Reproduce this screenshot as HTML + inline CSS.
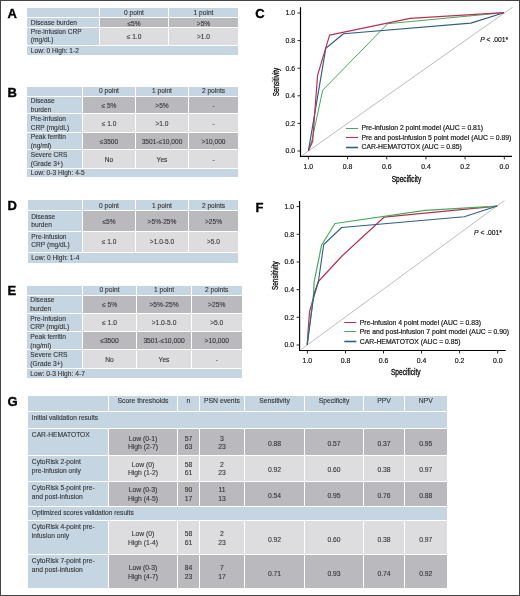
<!DOCTYPE html>
<html><head><meta charset="utf-8"><style>
html,body{margin:0;padding:0;}
body{width:520px;height:596px;position:relative;overflow:hidden;background:#fff;font-family:"Liberation Sans",sans-serif;}
.frame{position:absolute;left:0;top:0;width:518px;height:594px;border:1px solid #444;}
.c{position:absolute;display:flex;box-sizing:border-box;color:#333333;-webkit-text-stroke:0.1px #333333;line-height:8.5px;white-space:nowrap;}
.lbl{position:absolute;font-weight:bold;font-size:12px;line-height:12px;color:#000;}
svg{position:absolute;left:0;top:0;}
.plbl{font-family:"Liberation Sans",sans-serif;font-weight:bold;font-size:13px;fill:#000;stroke:#000;stroke-width:0.35px;}
.tk{font-family:"Liberation Sans",sans-serif;font-size:6.9px;fill:#222;stroke:#222;stroke-width:0.2px;}
.tk2{font-family:"Liberation Sans",sans-serif;font-size:6.75px;fill:#222;stroke:#222;stroke-width:0.2px;}
.ax{font-family:"Liberation Sans",sans-serif;font-size:8.9px;fill:#111;stroke:#111;stroke-width:0.35px;}
</style></head><body>
<div id="wrap" style="position:absolute;left:0;top:0;width:520px;height:596px;will-change:transform;background:#fff">
<div class="frame"></div>
<div class="c" style="left:27px;top:8px;width:72px;height:9px;background:#c5d5e2;justify-content:center;align-items:center;font-size:6.6px;text-align:center;line-height:8.2px;"><span style="position:relative;top:1.0px"></span></div>
<div class="c" style="left:100px;top:8px;width:68px;height:9px;background:#c5d5e2;justify-content:center;align-items:center;font-size:6.6px;text-align:center;line-height:8.2px;"><span style="position:relative;top:1.0px">0 point</span></div>
<div class="c" style="left:169px;top:8px;width:69px;height:9px;background:#c5d5e2;justify-content:center;align-items:center;font-size:6.6px;text-align:center;line-height:8.2px;"><span style="position:relative;top:1.0px">1 point</span></div>
<div class="c" style="left:27px;top:18px;width:72px;height:9px;background:#c5d5e2;justify-content:flex-start;align-items:center;font-size:6.6px;padding-left:3.8px;text-align:left;line-height:8.2px;"><span style="position:relative;top:1.0px">Disease burden</span></div>
<div class="c" style="left:100px;top:18px;width:68px;height:9px;background:#bab9be;justify-content:center;align-items:center;font-size:6.6px;text-align:center;line-height:8.2px;"><span style="position:relative;top:1.6px">≤5%</span></div>
<div class="c" style="left:169px;top:18px;width:69px;height:9px;background:#bab9be;justify-content:center;align-items:center;font-size:6.6px;text-align:center;line-height:8.2px;"><span style="position:relative;top:1.6px">&gt;5%</span></div>
<div class="c" style="left:27px;top:28px;width:72px;height:17px;background:#c5d5e2;justify-content:flex-start;align-items:center;font-size:6.6px;padding-left:3.8px;text-align:left;line-height:8.2px;"><span style="position:relative;top:-0.2px">Pre-infusion CRP<br>(mg/dL)</span></div>
<div class="c" style="left:100px;top:28px;width:68px;height:17px;background:#dddcdf;justify-content:center;align-items:center;font-size:6.6px;text-align:center;line-height:8.2px;"><span style="position:relative;top:1.0px">≤ 1.0</span></div>
<div class="c" style="left:169px;top:28px;width:69px;height:17px;background:#dddcdf;justify-content:center;align-items:center;font-size:6.6px;text-align:center;line-height:8.2px;"><span style="position:relative;top:1.0px">&gt;1.0</span></div>
<div class="c" style="left:27px;top:46px;width:211px;height:8.5px;background:#c5d5e2;justify-content:flex-start;align-items:center;font-size:6.6px;padding-left:3.8px;text-align:left;line-height:8.2px;"><span style="position:relative;top:1.0px">Low: 0 High: 1-2</span></div>
<div class="c" style="left:27px;top:86.5px;width:55px;height:9.0px;background:#c5d5e2;justify-content:center;align-items:center;font-size:6.6px;text-align:center;line-height:8.5px;"><span style="position:relative;top:0.3px"></span></div>
<div class="c" style="left:83px;top:86.5px;width:52px;height:9.0px;background:#c5d5e2;justify-content:center;align-items:center;font-size:6.6px;text-align:center;line-height:8.5px;"><span style="position:relative;top:0.3px">0 point</span></div>
<div class="c" style="left:136px;top:86.5px;width:52px;height:9.0px;background:#c5d5e2;justify-content:center;align-items:center;font-size:6.6px;text-align:center;line-height:8.5px;"><span style="position:relative;top:0.3px">1 point</span></div>
<div class="c" style="left:189px;top:86.5px;width:49px;height:9.0px;background:#c5d5e2;justify-content:center;align-items:center;font-size:6.6px;text-align:center;line-height:8.5px;"><span style="position:relative;top:0.3px">2 points</span></div>
<div class="c" style="left:27px;top:96.5px;width:55px;height:16.5px;background:#c5d5e2;justify-content:flex-start;align-items:center;font-size:6.6px;padding-left:3.8px;text-align:left;line-height:8.5px;"><span style="position:relative;top:1.0px">Disease<br>burden</span></div>
<div class="c" style="left:83px;top:96.5px;width:52px;height:16.5px;background:#bab9be;justify-content:center;align-items:center;font-size:6.6px;text-align:center;line-height:8.5px;"><span style="position:relative;top:1.0px">≤ 5%</span></div>
<div class="c" style="left:136px;top:96.5px;width:52px;height:16.5px;background:#bab9be;justify-content:center;align-items:center;font-size:6.6px;text-align:center;line-height:8.5px;"><span style="position:relative;top:1.0px">&gt;5%</span></div>
<div class="c" style="left:189px;top:96.5px;width:49px;height:16.5px;background:#bab9be;justify-content:center;align-items:center;font-size:6.6px;text-align:center;line-height:8.5px;"><span style="position:relative;top:1.0px">-</span></div>
<div class="c" style="left:27px;top:114px;width:55px;height:17.5px;background:#c5d5e2;justify-content:flex-start;align-items:center;font-size:6.6px;padding-left:3.8px;text-align:left;line-height:8.5px;"><span style="position:relative;top:1.0px">Pre-infusion<br>CRP (mg/dL)</span></div>
<div class="c" style="left:83px;top:114px;width:52px;height:17.5px;background:#dddcdf;justify-content:center;align-items:center;font-size:6.6px;text-align:center;line-height:8.5px;"><span style="position:relative;top:1.0px">≤ 1.0</span></div>
<div class="c" style="left:136px;top:114px;width:52px;height:17.5px;background:#dddcdf;justify-content:center;align-items:center;font-size:6.6px;text-align:center;line-height:8.5px;"><span style="position:relative;top:1.0px">&gt;1.0</span></div>
<div class="c" style="left:189px;top:114px;width:49px;height:17.5px;background:#dddcdf;justify-content:center;align-items:center;font-size:6.6px;text-align:center;line-height:8.5px;"><span style="position:relative;top:1.0px">-</span></div>
<div class="c" style="left:27px;top:132.5px;width:55px;height:16.5px;background:#c5d5e2;justify-content:flex-start;align-items:center;font-size:6.6px;padding-left:3.8px;text-align:left;line-height:8.5px;"><span style="position:relative;top:1.0px">Peak ferritin<br>(ng/ml)</span></div>
<div class="c" style="left:83px;top:132.5px;width:52px;height:16.5px;background:#bab9be;justify-content:center;align-items:center;font-size:6.6px;text-align:center;line-height:8.5px;"><span style="position:relative;top:1.0px">≤3500</span></div>
<div class="c" style="left:136px;top:132.5px;width:52px;height:16.5px;background:#bab9be;justify-content:center;align-items:center;font-size:6.6px;text-align:center;line-height:8.5px;"><span style="position:relative;top:1.0px">3501-≤10,000</span></div>
<div class="c" style="left:189px;top:132.5px;width:49px;height:16.5px;background:#bab9be;justify-content:center;align-items:center;font-size:6.6px;text-align:center;line-height:8.5px;"><span style="position:relative;top:1.0px">&gt;10,000</span></div>
<div class="c" style="left:27px;top:150px;width:55px;height:17.5px;background:#c5d5e2;justify-content:flex-start;align-items:center;font-size:6.6px;padding-left:3.8px;text-align:left;line-height:8.5px;"><span style="position:relative;top:1.0px">Severe CRS<br>(Grade 3+)</span></div>
<div class="c" style="left:83px;top:150px;width:52px;height:17.5px;background:#dddcdf;justify-content:center;align-items:center;font-size:6.6px;text-align:center;line-height:8.5px;"><span style="position:relative;top:1.0px">No</span></div>
<div class="c" style="left:136px;top:150px;width:52px;height:17.5px;background:#dddcdf;justify-content:center;align-items:center;font-size:6.6px;text-align:center;line-height:8.5px;"><span style="position:relative;top:1.0px">Yes</span></div>
<div class="c" style="left:189px;top:150px;width:49px;height:17.5px;background:#dddcdf;justify-content:center;align-items:center;font-size:6.6px;text-align:center;line-height:8.5px;"><span style="position:relative;top:1.0px">-</span></div>
<div class="c" style="left:27px;top:168.5px;width:211px;height:8.0px;background:#c5d5e2;justify-content:flex-start;align-items:center;font-size:6.6px;padding-left:3.8px;text-align:left;line-height:8.5px;"><span style="position:relative;top:1.0px">Low: 0-3 High: 4-5</span></div>
<div class="c" style="left:27.5px;top:200px;width:54.5px;height:10px;background:#c5d5e2;justify-content:center;align-items:center;font-size:6.6px;text-align:center;line-height:8.6px;"><span style="position:relative;top:1.0px"></span></div>
<div class="c" style="left:83px;top:200px;width:52px;height:10px;background:#c5d5e2;justify-content:center;align-items:center;font-size:6.6px;text-align:center;line-height:8.6px;"><span style="position:relative;top:1.0px">0 point</span></div>
<div class="c" style="left:136px;top:200px;width:52px;height:10px;background:#c5d5e2;justify-content:center;align-items:center;font-size:6.6px;text-align:center;line-height:8.6px;"><span style="position:relative;top:1.0px">1 point</span></div>
<div class="c" style="left:189px;top:200px;width:49px;height:10px;background:#c5d5e2;justify-content:center;align-items:center;font-size:6.6px;text-align:center;line-height:8.6px;"><span style="position:relative;top:1.0px">2 points</span></div>
<div class="c" style="left:27.5px;top:211px;width:54.5px;height:20px;background:#c5d5e2;justify-content:flex-start;align-items:center;font-size:6.6px;padding-left:3.8px;text-align:left;line-height:8.6px;"><span style="position:relative;top:0.4px">Disease<br>burden</span></div>
<div class="c" style="left:83px;top:211px;width:52px;height:20px;background:#bab9be;justify-content:center;align-items:center;font-size:6.6px;text-align:center;line-height:8.6px;"><span style="position:relative;top:1.0px">≤5%</span></div>
<div class="c" style="left:136px;top:211px;width:52px;height:20px;background:#bab9be;justify-content:center;align-items:center;font-size:6.6px;text-align:center;line-height:8.6px;"><span style="position:relative;top:1.0px">&gt;5%-25%</span></div>
<div class="c" style="left:189px;top:211px;width:49px;height:20px;background:#bab9be;justify-content:center;align-items:center;font-size:6.6px;text-align:center;line-height:8.6px;"><span style="position:relative;top:1.0px">&gt;25%</span></div>
<div class="c" style="left:27.5px;top:232px;width:54.5px;height:19.5px;background:#c5d5e2;justify-content:flex-start;align-items:center;font-size:6.6px;padding-left:3.8px;text-align:left;line-height:8.6px;"><span style="position:relative;top:-0.6px">Pre-infusion<br>CRP (mg/dL)</span></div>
<div class="c" style="left:83px;top:232px;width:52px;height:19.5px;background:#dddcdf;justify-content:center;align-items:center;font-size:6.6px;text-align:center;line-height:8.6px;"><span style="position:relative;top:1.0px">≤ 1.0</span></div>
<div class="c" style="left:136px;top:232px;width:52px;height:19.5px;background:#dddcdf;justify-content:center;align-items:center;font-size:6.6px;text-align:center;line-height:8.6px;"><span style="position:relative;top:1.0px">&gt;1.0-5.0</span></div>
<div class="c" style="left:189px;top:232px;width:49px;height:19.5px;background:#dddcdf;justify-content:center;align-items:center;font-size:6.6px;text-align:center;line-height:8.6px;"><span style="position:relative;top:1.0px">&gt;5.0</span></div>
<div class="c" style="left:27.5px;top:252.5px;width:210.5px;height:10.0px;background:#c5d5e2;justify-content:flex-start;align-items:center;font-size:6.6px;padding-left:3.8px;text-align:left;line-height:8.6px;"><span style="position:relative;top:0.6px">Low: 0 High: 1-4</span></div>
<div class="c" style="left:26.5px;top:285.5px;width:55.5px;height:9.0px;background:#c5d5e2;justify-content:center;align-items:center;font-size:6.7px;text-align:center;line-height:8.7px;"><span style="position:relative;top:0.5px"></span></div>
<div class="c" style="left:83px;top:285.5px;width:53px;height:9.0px;background:#c5d5e2;justify-content:center;align-items:center;font-size:6.7px;text-align:center;line-height:8.7px;"><span style="position:relative;top:0.5px">0 point</span></div>
<div class="c" style="left:137px;top:285.5px;width:54px;height:9.0px;background:#c5d5e2;justify-content:center;align-items:center;font-size:6.7px;text-align:center;line-height:8.7px;"><span style="position:relative;top:0.5px">1 point</span></div>
<div class="c" style="left:192px;top:285.5px;width:49.5px;height:9.0px;background:#c5d5e2;justify-content:center;align-items:center;font-size:6.7px;text-align:center;line-height:8.7px;"><span style="position:relative;top:0.5px">2 points</span></div>
<div class="c" style="left:26.5px;top:295.5px;width:55.5px;height:17.0px;background:#c5d5e2;justify-content:flex-start;align-items:center;font-size:6.7px;padding-left:3.8px;text-align:left;line-height:8.7px;"><span style="position:relative;top:1.0px">Disease<br>burden</span></div>
<div class="c" style="left:83px;top:295.5px;width:53px;height:17.0px;background:#bab9be;justify-content:center;align-items:center;font-size:6.7px;text-align:center;line-height:8.7px;"><span style="position:relative;top:1.0px">≤ 5%</span></div>
<div class="c" style="left:137px;top:295.5px;width:54px;height:17.0px;background:#bab9be;justify-content:center;align-items:center;font-size:6.7px;text-align:center;line-height:8.7px;"><span style="position:relative;top:1.0px">&gt;5%-25%</span></div>
<div class="c" style="left:192px;top:295.5px;width:49.5px;height:17.0px;background:#bab9be;justify-content:center;align-items:center;font-size:6.7px;text-align:center;line-height:8.7px;"><span style="position:relative;top:1.0px">&gt;25%</span></div>
<div class="c" style="left:26.5px;top:313.5px;width:55.5px;height:17.5px;background:#c5d5e2;justify-content:flex-start;align-items:center;font-size:6.7px;padding-left:3.8px;text-align:left;line-height:8.7px;"><span style="position:relative;top:1.0px">Pre-infusion<br>CRP (mg/dL)</span></div>
<div class="c" style="left:83px;top:313.5px;width:53px;height:17.5px;background:#dddcdf;justify-content:center;align-items:center;font-size:6.7px;text-align:center;line-height:8.7px;"><span style="position:relative;top:1.0px">≤ 1.0</span></div>
<div class="c" style="left:137px;top:313.5px;width:54px;height:17.5px;background:#dddcdf;justify-content:center;align-items:center;font-size:6.7px;text-align:center;line-height:8.7px;"><span style="position:relative;top:1.0px">&gt;1.0-5.0</span></div>
<div class="c" style="left:192px;top:313.5px;width:49.5px;height:17.5px;background:#dddcdf;justify-content:center;align-items:center;font-size:6.7px;text-align:center;line-height:8.7px;"><span style="position:relative;top:1.0px">&gt;5.0</span></div>
<div class="c" style="left:26.5px;top:332px;width:55.5px;height:17px;background:#c5d5e2;justify-content:flex-start;align-items:center;font-size:6.7px;padding-left:3.8px;text-align:left;line-height:8.7px;"><span style="position:relative;top:1.0px">Peak ferritin<br>(ng/ml)</span></div>
<div class="c" style="left:83px;top:332px;width:53px;height:17px;background:#bab9be;justify-content:center;align-items:center;font-size:6.7px;text-align:center;line-height:8.7px;"><span style="position:relative;top:1.0px">≤3500</span></div>
<div class="c" style="left:137px;top:332px;width:54px;height:17px;background:#bab9be;justify-content:center;align-items:center;font-size:6.7px;text-align:center;line-height:8.7px;"><span style="position:relative;top:1.0px">3501-≤10,000</span></div>
<div class="c" style="left:192px;top:332px;width:49.5px;height:17px;background:#bab9be;justify-content:center;align-items:center;font-size:6.7px;text-align:center;line-height:8.7px;"><span style="position:relative;top:1.0px">&gt;10,000</span></div>
<div class="c" style="left:26.5px;top:350px;width:55.5px;height:18px;background:#c5d5e2;justify-content:flex-start;align-items:center;font-size:6.7px;padding-left:3.8px;text-align:left;line-height:8.7px;"><span style="position:relative;top:1.0px">Severe CRS<br>(Grade 3+)</span></div>
<div class="c" style="left:83px;top:350px;width:53px;height:18px;background:#dddcdf;justify-content:center;align-items:center;font-size:6.7px;text-align:center;line-height:8.7px;"><span style="position:relative;top:1.0px">No</span></div>
<div class="c" style="left:137px;top:350px;width:54px;height:18px;background:#dddcdf;justify-content:center;align-items:center;font-size:6.7px;text-align:center;line-height:8.7px;"><span style="position:relative;top:1.0px">Yes</span></div>
<div class="c" style="left:192px;top:350px;width:49.5px;height:18px;background:#dddcdf;justify-content:center;align-items:center;font-size:6.7px;text-align:center;line-height:8.7px;"><span style="position:relative;top:1.0px">-</span></div>
<div class="c" style="left:26.5px;top:369px;width:215.0px;height:8.5px;background:#c5d5e2;justify-content:flex-start;align-items:center;font-size:6.7px;padding-left:3.8px;text-align:left;line-height:8.7px;"><span style="position:relative;top:1.0px">Low: 0-3 High: 4-7</span></div>
<div class="c" style="left:28px;top:396px;width:80px;height:15px;background:#c5d5e2;justify-content:center;align-items:center;font-size:6.8px;text-align:center;"><span style="position:relative;top:-2.0px"></span></div>
<div class="c" style="left:109px;top:396px;width:68px;height:15px;background:#c5d5e2;justify-content:center;align-items:center;font-size:6.8px;text-align:center;"><span style="position:relative;top:-2.0px">Score thresholds</span></div>
<div class="c" style="left:178px;top:396px;width:21px;height:15px;background:#c5d5e2;justify-content:center;align-items:center;font-size:6.8px;text-align:center;"><span style="position:relative;top:-2.0px">n</span></div>
<div class="c" style="left:200px;top:396px;width:44px;height:15px;background:#c5d5e2;justify-content:center;align-items:center;font-size:6.8px;text-align:center;"><span style="position:relative;top:-2.0px">PSN events</span></div>
<div class="c" style="left:245px;top:396px;width:59px;height:15px;background:#c5d5e2;justify-content:center;align-items:center;font-size:6.8px;text-align:center;"><span style="position:relative;top:-2.0px">Sensitivity</span></div>
<div class="c" style="left:305px;top:396px;width:58px;height:15px;background:#c5d5e2;justify-content:center;align-items:center;font-size:6.8px;text-align:center;"><span style="position:relative;top:-2.0px">Specificity</span></div>
<div class="c" style="left:364px;top:396px;width:40px;height:15px;background:#c5d5e2;justify-content:center;align-items:center;font-size:6.8px;text-align:center;"><span style="position:relative;top:-2.0px">PPV</span></div>
<div class="c" style="left:405px;top:396px;width:41.5px;height:15px;background:#c5d5e2;justify-content:center;align-items:center;font-size:6.8px;text-align:center;"><span style="position:relative;top:-2.0px">NPV</span></div>
<div class="c" style="left:28px;top:412px;width:418.5px;height:16px;background:#c5d5e2;justify-content:flex-start;align-items:center;font-size:6.6px;padding-left:3.8px;text-align:left;"><span style="position:relative;top:-1.6px">Initial validation results</span></div>
<div class="c" style="left:28px;top:429px;width:80px;height:26px;background:#c5d5e2;justify-content:flex-start;align-items:flex-start;font-size:6.7px;padding-left:3.8px;text-align:left;line-height:8.7px;padding-top:2px;"><span style="position:relative;top:0.3px">CAR-HEMATOTOX</span></div>
<div class="c" style="left:109px;top:429px;width:68px;height:26px;background:#bab9be;justify-content:center;align-items:center;font-size:6.8px;text-align:center;line-height:8.6px;"><span style="position:relative;top:1.2px">Low (0-1)<br>High (2-7)</span></div>
<div class="c" style="left:178px;top:429px;width:21px;height:26px;background:#bab9be;justify-content:center;align-items:center;font-size:6.8px;text-align:center;line-height:8.6px;"><span style="position:relative;top:1.2px">57<br>63</span></div>
<div class="c" style="left:200px;top:429px;width:44px;height:26px;background:#bab9be;justify-content:center;align-items:center;font-size:6.8px;text-align:center;line-height:8.6px;"><span style="position:relative;top:1.2px">3<br>23</span></div>
<div class="c" style="left:245px;top:429px;width:59px;height:26px;background:#bab9be;justify-content:center;align-items:center;font-size:6.8px;text-align:center;line-height:8.6px;"><span style="position:relative;top:2.4px">0.88</span></div>
<div class="c" style="left:305px;top:429px;width:58px;height:26px;background:#bab9be;justify-content:center;align-items:center;font-size:6.8px;text-align:center;line-height:8.6px;"><span style="position:relative;top:2.4px">0.57</span></div>
<div class="c" style="left:364px;top:429px;width:40px;height:26px;background:#bab9be;justify-content:center;align-items:center;font-size:6.8px;text-align:center;line-height:8.6px;"><span style="position:relative;top:2.4px">0.37</span></div>
<div class="c" style="left:405px;top:429px;width:41.5px;height:26px;background:#bab9be;justify-content:center;align-items:center;font-size:6.8px;text-align:center;line-height:8.6px;"><span style="position:relative;top:2.4px">0.95</span></div>
<div class="c" style="left:28px;top:456px;width:80px;height:24.5px;background:#c5d5e2;justify-content:flex-start;align-items:flex-start;font-size:6.7px;padding-left:3.8px;text-align:left;line-height:8.7px;padding-top:2px;"><span style="position:relative;top:0.3px">CytoRisk 2-point<br>pre-infusion only</span></div>
<div class="c" style="left:109px;top:456px;width:68px;height:24.5px;background:#dddcdf;justify-content:center;align-items:center;font-size:6.8px;text-align:center;line-height:8.6px;"><span style="position:relative;top:1.2px">Low (0)<br>High (1-2)</span></div>
<div class="c" style="left:178px;top:456px;width:21px;height:24.5px;background:#dddcdf;justify-content:center;align-items:center;font-size:6.8px;text-align:center;line-height:8.6px;"><span style="position:relative;top:1.2px">58<br>61</span></div>
<div class="c" style="left:200px;top:456px;width:44px;height:24.5px;background:#dddcdf;justify-content:center;align-items:center;font-size:6.8px;text-align:center;line-height:8.6px;"><span style="position:relative;top:1.2px">2<br>23</span></div>
<div class="c" style="left:245px;top:456px;width:59px;height:24.5px;background:#dddcdf;justify-content:center;align-items:center;font-size:6.8px;text-align:center;line-height:8.6px;"><span style="position:relative;top:2.4px">0.92</span></div>
<div class="c" style="left:305px;top:456px;width:58px;height:24.5px;background:#dddcdf;justify-content:center;align-items:center;font-size:6.8px;text-align:center;line-height:8.6px;"><span style="position:relative;top:2.4px">0.60</span></div>
<div class="c" style="left:364px;top:456px;width:40px;height:24.5px;background:#dddcdf;justify-content:center;align-items:center;font-size:6.8px;text-align:center;line-height:8.6px;"><span style="position:relative;top:2.4px">0.38</span></div>
<div class="c" style="left:405px;top:456px;width:41.5px;height:24.5px;background:#dddcdf;justify-content:center;align-items:center;font-size:6.8px;text-align:center;line-height:8.6px;"><span style="position:relative;top:2.4px">0.97</span></div>
<div class="c" style="left:28px;top:481.5px;width:80px;height:24.5px;background:#c5d5e2;justify-content:flex-start;align-items:flex-start;font-size:6.7px;padding-left:3.8px;text-align:left;line-height:8.7px;padding-top:2px;"><span style="position:relative;top:0.3px">CytoRisk 5-point pre-<br>and post-infusion</span></div>
<div class="c" style="left:109px;top:481.5px;width:68px;height:24.5px;background:#bab9be;justify-content:center;align-items:center;font-size:6.8px;text-align:center;line-height:8.6px;"><span style="position:relative;top:1.2px">Low (0-3)<br>High (4-5)</span></div>
<div class="c" style="left:178px;top:481.5px;width:21px;height:24.5px;background:#bab9be;justify-content:center;align-items:center;font-size:6.8px;text-align:center;line-height:8.6px;"><span style="position:relative;top:1.2px">90<br>17</span></div>
<div class="c" style="left:200px;top:481.5px;width:44px;height:24.5px;background:#bab9be;justify-content:center;align-items:center;font-size:6.8px;text-align:center;line-height:8.6px;"><span style="position:relative;top:1.2px">11<br>13</span></div>
<div class="c" style="left:245px;top:481.5px;width:59px;height:24.5px;background:#bab9be;justify-content:center;align-items:center;font-size:6.8px;text-align:center;line-height:8.6px;"><span style="position:relative;top:2.4px">0.54</span></div>
<div class="c" style="left:305px;top:481.5px;width:58px;height:24.5px;background:#bab9be;justify-content:center;align-items:center;font-size:6.8px;text-align:center;line-height:8.6px;"><span style="position:relative;top:2.4px">0.95</span></div>
<div class="c" style="left:364px;top:481.5px;width:40px;height:24.5px;background:#bab9be;justify-content:center;align-items:center;font-size:6.8px;text-align:center;line-height:8.6px;"><span style="position:relative;top:2.4px">0.76</span></div>
<div class="c" style="left:405px;top:481.5px;width:41.5px;height:24.5px;background:#bab9be;justify-content:center;align-items:center;font-size:6.8px;text-align:center;line-height:8.6px;"><span style="position:relative;top:2.4px">0.88</span></div>
<div class="c" style="left:28px;top:507px;width:418.5px;height:13px;background:#c5d5e2;justify-content:flex-start;align-items:center;font-size:6.6px;padding-left:3.8px;text-align:left;"><span style="position:relative;top:0.0px">Optimized scores validation results</span></div>
<div class="c" style="left:28px;top:521px;width:80px;height:33px;background:#c5d5e2;justify-content:flex-start;align-items:flex-start;font-size:6.7px;padding-left:3.8px;text-align:left;line-height:8.7px;padding-top:2px;"><span style="position:relative;top:0.3px">CytoRisk 4-point pre-<br>infusion only</span></div>
<div class="c" style="left:109px;top:521px;width:68px;height:33px;background:#dddcdf;justify-content:center;align-items:center;font-size:6.8px;text-align:center;line-height:8.6px;"><span style="position:relative;top:1.2px">Low (0)<br>High (1-4)</span></div>
<div class="c" style="left:178px;top:521px;width:21px;height:33px;background:#dddcdf;justify-content:center;align-items:center;font-size:6.8px;text-align:center;line-height:8.6px;"><span style="position:relative;top:1.2px">58<br>61</span></div>
<div class="c" style="left:200px;top:521px;width:44px;height:33px;background:#dddcdf;justify-content:center;align-items:center;font-size:6.8px;text-align:center;line-height:8.6px;"><span style="position:relative;top:1.2px">2<br>23</span></div>
<div class="c" style="left:245px;top:521px;width:59px;height:33px;background:#dddcdf;justify-content:center;align-items:center;font-size:6.8px;text-align:center;line-height:8.6px;"><span style="position:relative;top:2.4px">0.92</span></div>
<div class="c" style="left:305px;top:521px;width:58px;height:33px;background:#dddcdf;justify-content:center;align-items:center;font-size:6.8px;text-align:center;line-height:8.6px;"><span style="position:relative;top:2.4px">0.60</span></div>
<div class="c" style="left:364px;top:521px;width:40px;height:33px;background:#dddcdf;justify-content:center;align-items:center;font-size:6.8px;text-align:center;line-height:8.6px;"><span style="position:relative;top:2.4px">0.38</span></div>
<div class="c" style="left:405px;top:521px;width:41.5px;height:33px;background:#dddcdf;justify-content:center;align-items:center;font-size:6.8px;text-align:center;line-height:8.6px;"><span style="position:relative;top:2.4px">0.97</span></div>
<div class="c" style="left:28px;top:555px;width:80px;height:33px;background:#c5d5e2;justify-content:flex-start;align-items:flex-start;font-size:6.7px;padding-left:3.8px;text-align:left;line-height:8.7px;padding-top:2px;"><span style="position:relative;top:0.3px">CytoRisk 7-point pre-<br>and post-infusion</span></div>
<div class="c" style="left:109px;top:555px;width:68px;height:33px;background:#bab9be;justify-content:center;align-items:center;font-size:6.8px;text-align:center;line-height:8.6px;"><span style="position:relative;top:1.2px">Low (0-3)<br>High (4-7)</span></div>
<div class="c" style="left:178px;top:555px;width:21px;height:33px;background:#bab9be;justify-content:center;align-items:center;font-size:6.8px;text-align:center;line-height:8.6px;"><span style="position:relative;top:1.2px">84<br>23</span></div>
<div class="c" style="left:200px;top:555px;width:44px;height:33px;background:#bab9be;justify-content:center;align-items:center;font-size:6.8px;text-align:center;line-height:8.6px;"><span style="position:relative;top:1.2px">7<br>17</span></div>
<div class="c" style="left:245px;top:555px;width:59px;height:33px;background:#bab9be;justify-content:center;align-items:center;font-size:6.8px;text-align:center;line-height:8.6px;"><span style="position:relative;top:2.4px">0.71</span></div>
<div class="c" style="left:305px;top:555px;width:58px;height:33px;background:#bab9be;justify-content:center;align-items:center;font-size:6.8px;text-align:center;line-height:8.6px;"><span style="position:relative;top:2.4px">0.93</span></div>
<div class="c" style="left:364px;top:555px;width:40px;height:33px;background:#bab9be;justify-content:center;align-items:center;font-size:6.8px;text-align:center;line-height:8.6px;"><span style="position:relative;top:2.4px">0.74</span></div>
<div class="c" style="left:405px;top:555px;width:41.5px;height:33px;background:#bab9be;justify-content:center;align-items:center;font-size:6.8px;text-align:center;line-height:8.6px;"><span style="position:relative;top:2.4px">0.92</span></div>
<svg width="520" height="596" viewBox="0 0 520 596">
<text x="7.6" y="18" class="plbl">A</text><text x="7.6" y="96.5" class="plbl">B</text><text x="7.6" y="210.2" class="plbl">D</text><text x="7.6" y="295.4" class="plbl">E</text><text x="7.6" y="405.6" class="plbl">G</text>
<text x="255.3" y="18.2" class="plbl">C</text>
<polyline points="300.5,7.2 300.5,156.4 512,156.4" fill="none" stroke="#000" stroke-width="1.15"/>
<line x1="297.5" y1="151.00" x2="300.5" y2="151.00" stroke="#111" stroke-width="0.9"/>
<text x="295.0" y="153.40" class="tk" text-anchor="end">0.0</text>
<line x1="504.30" y1="156.4" x2="504.30" y2="159.4" stroke="#111" stroke-width="0.9"/>
<text x="504.30" y="168.9" class="tk" text-anchor="middle">0.0</text>
<line x1="297.5" y1="123.40" x2="300.5" y2="123.40" stroke="#111" stroke-width="0.9"/>
<text x="295.0" y="125.80" class="tk" text-anchor="end">0.2</text>
<line x1="465.12" y1="156.4" x2="465.12" y2="159.4" stroke="#111" stroke-width="0.9"/>
<text x="465.12" y="168.9" class="tk" text-anchor="middle">0.2</text>
<line x1="297.5" y1="95.80" x2="300.5" y2="95.80" stroke="#111" stroke-width="0.9"/>
<text x="295.0" y="98.20" class="tk" text-anchor="end">0.4</text>
<line x1="425.94" y1="156.4" x2="425.94" y2="159.4" stroke="#111" stroke-width="0.9"/>
<text x="425.94" y="168.9" class="tk" text-anchor="middle">0.4</text>
<line x1="297.5" y1="68.20" x2="300.5" y2="68.20" stroke="#111" stroke-width="0.9"/>
<text x="295.0" y="70.60" class="tk" text-anchor="end">0.6</text>
<line x1="386.76" y1="156.4" x2="386.76" y2="159.4" stroke="#111" stroke-width="0.9"/>
<text x="386.76" y="168.9" class="tk" text-anchor="middle">0.6</text>
<line x1="297.5" y1="40.60" x2="300.5" y2="40.60" stroke="#111" stroke-width="0.9"/>
<text x="295.0" y="43.00" class="tk" text-anchor="end">0.8</text>
<line x1="347.58" y1="156.4" x2="347.58" y2="159.4" stroke="#111" stroke-width="0.9"/>
<text x="347.58" y="168.9" class="tk" text-anchor="middle">0.8</text>
<line x1="297.5" y1="13.00" x2="300.5" y2="13.00" stroke="#111" stroke-width="0.9"/>
<text x="295.0" y="15.40" class="tk" text-anchor="end">1.0</text>
<line x1="308.40" y1="156.4" x2="308.40" y2="159.4" stroke="#111" stroke-width="0.9"/>
<text x="308.40" y="168.9" class="tk" text-anchor="middle">1.0</text>
<line x1="302" y1="155.5" x2="512.6" y2="7.2" stroke="#bcbcbc" stroke-width="1.0"/>
<polyline points="308.4,150.8 312,140 322.7,90.2 387.7,23.7 504,12.7" fill="none" stroke="#49a85e" stroke-width="1.0" stroke-linejoin="round"/>
<polyline points="308.4,150.8 325.8,48.3 343.5,33.8 470.8,23.1 504,12.7" fill="none" stroke="#2e5f84" stroke-width="1.15" stroke-linejoin="round"/>
<polyline points="308.4,150.8 312.6,141.4 317.6,75.1 329.6,35.2 410,18.3 504,12.7" fill="none" stroke="#b93052" stroke-width="1.2" stroke-linejoin="round"/>
<text x="480.2" y="42.3" class="tk2" textLength="28" lengthAdjust="spacingAndGlyphs"><tspan font-style="italic">P</tspan> &lt; .001*</text>
<text x="391.7" y="182.1" class="ax" textLength="29.5" lengthAdjust="spacingAndGlyphs">Specificity</text>
<text transform="translate(278.6,96.3) rotate(-90)" class="ax" textLength="28.6" lengthAdjust="spacingAndGlyphs">Sensitivity</text>
<line x1="346" y1="128.5" x2="358" y2="128.5" stroke="#49a85e" stroke-width="1.0"/>
<text x="361.5" y="130.4" class="tk2" textLength="121.5" lengthAdjust="spacingAndGlyphs">Pre-infusion 2 point model (AUC = 0.81)</text>
<line x1="346" y1="137.5" x2="358" y2="137.5" stroke="#b93052" stroke-width="1.1"/>
<text x="361.5" y="139.9" class="tk2" textLength="149.8" lengthAdjust="spacingAndGlyphs">Pre and post-infusion 5 point model (AUC = 0.89)</text>
<line x1="346" y1="147.5" x2="358" y2="147.5" stroke="#2e5f84" stroke-width="1.6"/>
<text x="361.5" y="149.4" class="tk2" textLength="100.2" lengthAdjust="spacingAndGlyphs">CAR-HEMATOTOX (AUC = 0.85)</text>
<text x="255.5" y="211.6" class="plbl">F</text>
<polyline points="299.6,201 299.6,350.5 505.7,350.5" fill="none" stroke="#000" stroke-width="1.15"/>
<line x1="296.6" y1="345.00" x2="299.6" y2="345.00" stroke="#111" stroke-width="0.9"/>
<text x="294.1" y="347.40" class="tk" text-anchor="end">0.0</text>
<line x1="497.70" y1="350.5" x2="497.70" y2="353.5" stroke="#111" stroke-width="0.9"/>
<text x="497.70" y="363.0" class="tk" text-anchor="middle">0.0</text>
<line x1="296.6" y1="317.32" x2="299.6" y2="317.32" stroke="#111" stroke-width="0.9"/>
<text x="294.1" y="319.72" class="tk" text-anchor="end">0.2</text>
<line x1="459.64" y1="350.5" x2="459.64" y2="353.5" stroke="#111" stroke-width="0.9"/>
<text x="459.64" y="363.0" class="tk" text-anchor="middle">0.2</text>
<line x1="296.6" y1="289.64" x2="299.6" y2="289.64" stroke="#111" stroke-width="0.9"/>
<text x="294.1" y="292.04" class="tk" text-anchor="end">0.4</text>
<line x1="421.58" y1="350.5" x2="421.58" y2="353.5" stroke="#111" stroke-width="0.9"/>
<text x="421.58" y="363.0" class="tk" text-anchor="middle">0.4</text>
<line x1="296.6" y1="261.96" x2="299.6" y2="261.96" stroke="#111" stroke-width="0.9"/>
<text x="294.1" y="264.36" class="tk" text-anchor="end">0.6</text>
<line x1="383.52" y1="350.5" x2="383.52" y2="353.5" stroke="#111" stroke-width="0.9"/>
<text x="383.52" y="363.0" class="tk" text-anchor="middle">0.6</text>
<line x1="296.6" y1="234.28" x2="299.6" y2="234.28" stroke="#111" stroke-width="0.9"/>
<text x="294.1" y="236.68" class="tk" text-anchor="end">0.8</text>
<line x1="345.46" y1="350.5" x2="345.46" y2="353.5" stroke="#111" stroke-width="0.9"/>
<text x="345.46" y="363.0" class="tk" text-anchor="middle">0.8</text>
<line x1="296.6" y1="206.60" x2="299.6" y2="206.60" stroke="#111" stroke-width="0.9"/>
<text x="294.1" y="209.00" class="tk" text-anchor="end">1.0</text>
<line x1="307.40" y1="350.5" x2="307.40" y2="353.5" stroke="#111" stroke-width="0.9"/>
<text x="307.40" y="363.0" class="tk" text-anchor="middle">1.0</text>
<line x1="301.5" y1="349.2" x2="504.4" y2="200.5" stroke="#bcbcbc" stroke-width="1.0"/>
<polyline points="307.2,344.8 308,332.3 309.6,311.1 312.3,302 318.4,281.5 342,256 384,217.2 497.3,206.1" fill="none" stroke="#b93052" stroke-width="1.2" stroke-linejoin="round"/>
<polyline points="307.2,344.8 313.6,294 314.1,282 321.6,245 335,223.5 425,210.3 497.3,206.1" fill="none" stroke="#49a85e" stroke-width="1.2" stroke-linejoin="round"/>
<polyline points="307.2,344.8 314,294 318.4,281.5 323.7,244.5 341.7,227.5 464.2,216.7 497.3,206.1" fill="none" stroke="#2e5f84" stroke-width="1.1" stroke-linejoin="round"/>
<text x="474" y="234.9" class="tk2" textLength="28" lengthAdjust="spacingAndGlyphs"><tspan font-style="italic">P</tspan> &lt; .001*</text>
<text x="391" y="375.4" class="ax" textLength="29.5" lengthAdjust="spacingAndGlyphs">Specificity</text>
<text transform="translate(277.8,289.9) rotate(-90)" class="ax" textLength="28.6" lengthAdjust="spacingAndGlyphs">Sensitivity</text>
<line x1="344.3" y1="322.5" x2="356.3" y2="322.5" stroke="#b93052" stroke-width="1.1"/>
<text x="359.8" y="324.9" class="tk2" textLength="121.3" lengthAdjust="spacingAndGlyphs">Pre-infusion 4 point model (AUC = 0.83)</text>
<line x1="344.3" y1="331.5" x2="356.3" y2="331.5" stroke="#49a85e" stroke-width="1.0"/>
<text x="359.8" y="334.0" class="tk2" textLength="149.3" lengthAdjust="spacingAndGlyphs">Pre and post-infusion 7 point model (AUC = 0.90)</text>
<line x1="344.3" y1="341.5" x2="356.3" y2="341.5" stroke="#2e5f84" stroke-width="1.6"/>
<text x="359.8" y="343.5" class="tk2" textLength="100.8" lengthAdjust="spacingAndGlyphs">CAR-HEMATOTOX (AUC = 0.85)</text>
</svg>
</div>
</body></html>
